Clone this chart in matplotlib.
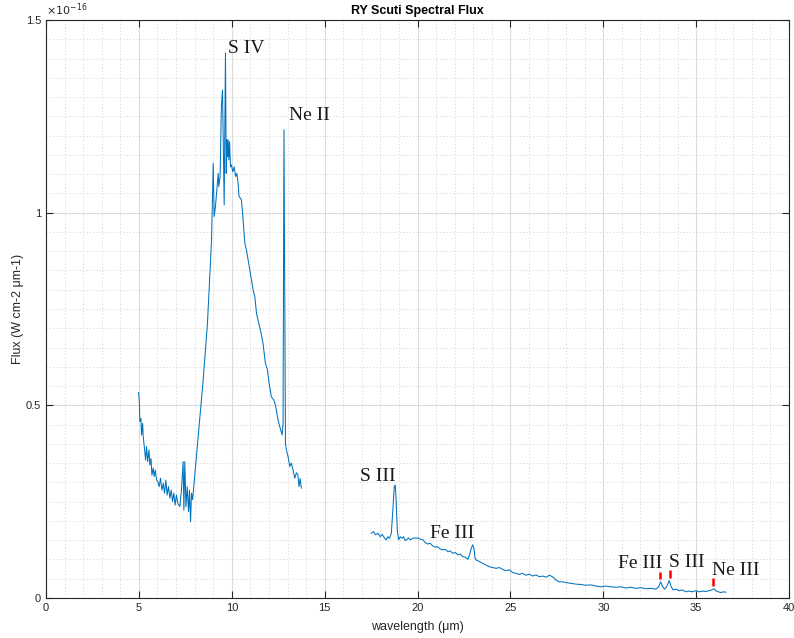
import matplotlib.pyplot as plt
from matplotlib.ticker import MultipleLocator, FuncFormatter

# flux in units of 1e-16 W cm-2 um-1
# short-low + long-low part (5 - 13.8 um)
wl_a = [4.98, 5.02, 5.05, 5.11, 5.14, 5.20, 5.23, 5.30, 5.36, 5.41, 5.47, 5.54, 5.59, 5.65,
        5.70, 5.77, 5.82, 5.88, 5.95, 6.02, 6.09, 6.16, 6.24, 6.31, 6.38, 6.45, 6.52, 6.59,
        6.67, 6.74, 6.81, 6.88, 6.95, 7.02, 7.10, 7.20, 7.29, 7.38, 7.42, 7.47, 7.53, 7.60,
        7.67, 7.72, 7.78, 7.83, 7.89, 8.46, 8.69, 8.91, 9.00, 9.05, 9.12, 9.27, 9.30, 9.37,
        9.44, 9.50, 9.59, 9.66, 9.70, 9.73, 9.77, 9.80, 9.84, 9.88, 9.93, 9.98, 10.05, 10.13,
        10.20, 10.27, 10.34, 10.39, 10.47, 10.52, 10.61, 10.70, 10.79, 10.88, 10.97, 11.06,
        11.15, 11.24, 11.33, 11.41, 11.56, 11.68, 11.81, 11.92, 12.01, 12.13, 12.26, 12.35,
        12.49, 12.58, 12.71, 12.76, 12.81, 12.89, 12.94, 13.03, 13.12, 13.21, 13.30, 13.39,
        13.48, 13.56, 13.62, 13.68, 13.75]
flux_a = [0.533, 0.514, 0.458, 0.466, 0.423, 0.453, 0.419, 0.388, 0.358, 0.393, 0.354, 0.384,
          0.345, 0.362, 0.319, 0.337, 0.315, 0.332, 0.306, 0.302, 0.289, 0.311, 0.280, 0.298,
          0.272, 0.306, 0.267, 0.289, 0.259, 0.280, 0.250, 0.272, 0.241, 0.267, 0.245, 0.237,
          0.280, 0.354, 0.228, 0.354, 0.237, 0.289, 0.224, 0.280, 0.198, 0.272, 0.255, 0.566,
          0.713, 0.929, 1.128, 0.990, 1.016, 1.102, 1.068, 1.094, 1.275, 1.318, 1.020, 1.414,
          1.102, 1.189, 1.145, 1.189, 1.137, 1.184, 1.119, 1.124, 1.106, 1.119, 1.094, 1.102,
          1.076, 1.042, 1.037, 1.033, 0.981, 0.921, 0.903, 0.877, 0.851, 0.825, 0.799, 0.782,
          0.739, 0.722, 0.691, 0.661, 0.609, 0.592, 0.557, 0.522, 0.514, 0.501, 0.462, 0.445,
          0.423, 0.453, 1.215, 0.401, 0.384, 0.367, 0.341, 0.350, 0.332, 0.311, 0.325, 0.319,
          0.289, 0.310, 0.285]

# short-high + long-high part (17.5 - 36.6 um)
wl_b = [17.51, 17.63, 17.74, 17.87, 17.99, 18.10, 18.23, 18.32, 18.40, 18.49, 18.59, 18.67,
        18.75, 18.80, 18.85, 18.91, 18.98, 19.07, 19.16, 19.25, 19.34, 19.43, 19.52, 19.61,
        19.70, 19.78, 19.89, 20.02, 20.14, 20.29, 20.41, 20.55, 20.68, 20.82, 20.97, 21.09,
        21.22, 21.36, 21.51, 21.63, 21.76, 21.90, 22.04, 22.17, 22.30, 22.44, 22.58, 22.71,
        22.80, 22.89, 22.97, 23.04, 23.10, 23.15, 23.51, 23.87, 24.23, 24.41, 24.59, 24.77,
        24.95, 25.12, 25.30, 25.48, 25.66, 25.84, 26.02, 26.20, 26.38, 26.56, 26.74, 26.92,
        27.10, 27.27, 27.45, 27.63, 27.81, 27.99, 28.26, 28.53, 28.80, 29.07, 29.34, 29.61,
        29.88, 30.14, 30.41, 30.68, 30.95, 31.22, 31.49, 31.76, 32.03, 32.30, 32.56, 32.83,
        32.98, 33.09, 33.20, 33.30, 33.41, 33.55, 33.66, 33.76, 33.91, 34.09, 34.26, 34.45,
        34.62, 34.80, 34.98, 35.16, 35.34, 35.52, 35.70, 35.84, 35.95, 36.06, 36.20, 36.33,
        36.45, 36.60]
flux_b = [0.168, 0.172, 0.164, 0.168, 0.159, 0.165, 0.155, 0.151, 0.159, 0.155, 0.168, 0.228,
          0.289, 0.293, 0.254, 0.176, 0.151, 0.159, 0.155, 0.159, 0.149, 0.152, 0.156, 0.151,
          0.153, 0.156, 0.155, 0.156, 0.153, 0.151, 0.144, 0.140, 0.142, 0.135, 0.132, 0.133,
          0.127, 0.125, 0.126, 0.120, 0.122, 0.116, 0.118, 0.112, 0.114, 0.107, 0.106, 0.100,
          0.112, 0.129, 0.138, 0.129, 0.103, 0.099, 0.090, 0.081, 0.077, 0.079, 0.074, 0.071,
          0.073, 0.066, 0.064, 0.061, 0.064, 0.059, 0.062, 0.057, 0.060, 0.055, 0.057, 0.054,
          0.059, 0.055, 0.047, 0.042, 0.042, 0.040, 0.038, 0.036, 0.035, 0.033, 0.034, 0.031,
          0.029, 0.031, 0.029, 0.028, 0.029, 0.026, 0.028, 0.025, 0.027, 0.024, 0.025, 0.023,
          0.029, 0.042, 0.029, 0.023, 0.029, 0.045, 0.029, 0.021, 0.023, 0.019, 0.021, 0.016,
          0.018, 0.016, 0.019, 0.016, 0.018, 0.017, 0.019, 0.021, 0.024, 0.019, 0.016, 0.014,
          0.016, 0.015]

# line labels: text, x, y (baseline)
labels = ['S IV', 'Ne II', 'S III', 'Fe III', 'Fe III', 'S III', 'Ne III']
label_x = [9.78, 13.06, 16.88, 20.65, 30.82, 33.55, 35.88]
label_y = [1.415, 1.24, 0.304, 0.156, 0.077, 0.081, 0.060]

# red markers for the faint long-wavelength lines
mark_x = [33.06, 33.57, 35.93]
mark_lo = [0.049, 0.053, 0.031]
mark_hi = [0.068, 0.073, 0.051]

plt.rcParams['font.family'] = ['Liberation Sans', 'DejaVu Sans']
fig = plt.figure(figsize=(7.94, 6.38), dpi=100)
ax = fig.add_axes([0.058, 0.0627, 0.9357, 0.906])

line_color = '#0072BD'
ax.plot(wl_a, flux_a, color=line_color, lw=0.75)
ax.plot(wl_b, flux_b, color=line_color, lw=0.75)
ax.vlines(mark_x, mark_lo, mark_hi, color='#ff0000', lw=1.8)

for t, x, y in zip(labels, label_x, label_y):
    ax.text(x, y, t, family='Liberation Serif', fontsize=14, ha='left', va='baseline',
            color='#1a1a1a')

ax.set_xlim(0, 40)
ax.set_ylim(0, 1.5)
ax.xaxis.set_major_locator(MultipleLocator(5))
ax.xaxis.set_minor_locator(MultipleLocator(1))
ax.yaxis.set_major_locator(MultipleLocator(0.5))
ax.yaxis.set_minor_locator(MultipleLocator(0.05))
ax.yaxis.set_major_formatter(FuncFormatter(lambda v, p: '%g' % v))
ax.grid(which='major', color='#dcdcdc', lw=0.8)
ax.grid(which='minor', color='#d4d4d4', lw=0.6, ls=(0, (1.5, 2.5)))
ax.set_axisbelow(True)
ax.tick_params(which='major', direction='in', length=5, top=True, right=True,
               labelsize=8, colors='#262626')
ax.tick_params(which='minor', length=0)
for s in ax.spines.values():
    s.set_color('#262626')
    s.set_linewidth(0.8)

ax.text(0.0, 1.003, r'$\times10^{-16}$', transform=ax.transAxes, fontsize=8,
        color='#262626', ha='left', va='bottom')
ax.set_title('RY Scuti Spectral Flux', fontsize=9, fontweight='bold', color='#000000', pad=4)
ax.set_xlabel('wavelength (\u03bcm)', fontsize=9, color='#262626', labelpad=6)
ax.set_ylabel('Flux (W cm-2 \u03bcm-1)', fontsize=9, color='#262626')
ax.yaxis.set_label_coords(-0.03, 0.5)

plt.savefig('out.png', dpi=100)
